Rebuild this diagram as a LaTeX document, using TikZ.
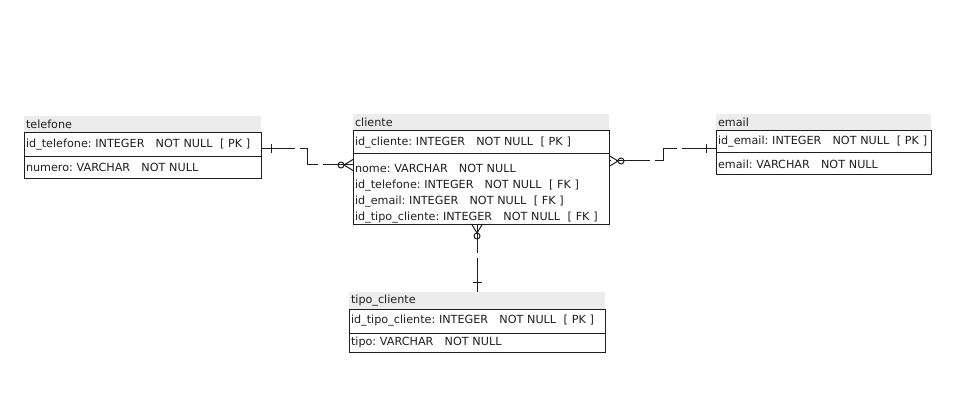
\documentclass[tikz,border=0pt]{standalone}
\usepackage{fontspec}
\setmainfont{DejaVu Sans}[WordSpace=0.9]
\frenchspacing
\hyphenpenalty=10000
\exhyphenpenalty=10000
\usetikzlibrary{positioning}

\definecolor{titlegray}{HTML}{ECECEC}
\definecolor{linegray}{HTML}{1E1E1E}

\tikzset{
  tabtitle/.style = {fill=titlegray, anchor=north west, inner xsep=2pt, inner ysep=0pt,
                     outer sep=0pt, text width=#1, align=left, minimum height=17pt},
  tabrow/.style   = {draw=linegray, line width=1pt, below right=0pt and 0pt of #1,
                     inner xsep=2pt, inner ysep=0pt, outer sep=0pt, align=left},
  rel/.style      = {draw=linegray, line width=1pt, dash pattern=on 34pt off 5pt},
  manyopt/.pic    = {\draw[linegray, line width=1pt] (0,-5.5) -- (9,0) -- (0,5.5);
                     \draw[linegray, line width=1pt] (12,0) circle (3pt);},
  oneend/.pic     = {\draw[linegray, line width=1pt] (10,-4.5) -- (10,4.5);}
}

\begin{document}
\begin{tikzpicture}[x=1pt, y=-1pt, text=linegray, font=\fontsize{11.2}{16}\selectfont]
  \useasboundingbox (0,0) rectangle (964,409);

  % telefone
  \node[tabtitle=233pt] (telTitle) at (24,116) {telefone};
  \node[tabrow=telTitle.south west, text width=233pt, minimum height=24pt] (telPK)
    {id\_telefone:~INTEGER~~~NOT~NULL~~[~PK~]};
  \node[tabrow=telPK.south west, text width=233pt, minimum height=21pt] (telAttr)
    {numero:~VARCHAR~~~NOT~NULL};

  % cliente
  \node[tabtitle=252pt] (cliTitle) at (353,114) {cliente};
  \node[tabrow=cliTitle.south west, text width=252pt, minimum height=23pt] (cliPK)
    {id\_cliente:~INTEGER~~~NOT~NULL~~[~PK~]};
  \node[tabrow=cliPK.south west, text width=252pt, minimum height=70pt] (cliAttr)
    {\rule{0pt}{17pt}nome:~VARCHAR~~~NOT~NULL\\
     id\_telefone:~INTEGER~~~NOT~NULL~~[~FK~]\\
     id\_email:~INTEGER~~~NOT~NULL~~[~FK~]\\
     id\_tipo\_cliente:~INTEGER~~~NOT~NULL~~[~FK~]};

  % email
  \node[tabtitle=211pt] (emlTitle) at (716,114) {email};
  \node[tabrow=emlTitle.south west, text width=211pt, minimum height=22pt] (emlPK)
    {id\_email:~INTEGER~~~NOT~NULL~~[~PK~]};
  \node[tabrow=emlPK.south west, text width=211pt, minimum height=22pt] (emlAttr)
    {email:~VARCHAR~~~NOT~NULL};

  % tipo_cliente
  \node[tabtitle=252pt] (tipTitle) at (349,292) {tipo\_cliente};
  \node[tabrow=tipTitle.south west, text width=252pt, minimum height=24pt] (tipPK)
    {id\_tipo\_cliente:~INTEGER~~~NOT~NULL~~[~PK~]};
  \node[tabrow=tipPK.south west, text width=252pt, minimum height=19pt] (tipAttr)
    {tipo:~VARCHAR~~~NOT~NULL};

  % connector ends
  \coordinate (telOne) at ([yshift=-4pt]telPK.east);
  \coordinate (cliTel) at ([yshift=24pt]cliAttr.west);
  \coordinate (emlOne) at ([yshift=-7pt]emlPK.west);
  \coordinate (cliEml) at ([yshift=28pt]cliAttr.east);
  \coordinate (tipOne) at (tipTitle.north);
  \coordinate (cliTip) at (tipOne |- cliAttr.south);

  % relations
  \draw[rel] (telOne) -| ++(46,16) -- (cliTel);
  \draw[rel] (emlOne) -| ++(-53,12) -- (cliEml);
  \draw[rel] (tipOne) -- (cliTip);

  \pic at (telOne) {oneend};
  \pic[rotate=180] at (cliTel) {manyopt};
  \pic[rotate=180] at (emlOne) {oneend};
  \pic at (cliEml) {manyopt};
  \pic[rotate=90] at (tipOne) {oneend};
  \pic[rotate=-90] at (cliTip) {manyopt};
\end{tikzpicture}
\end{document}
